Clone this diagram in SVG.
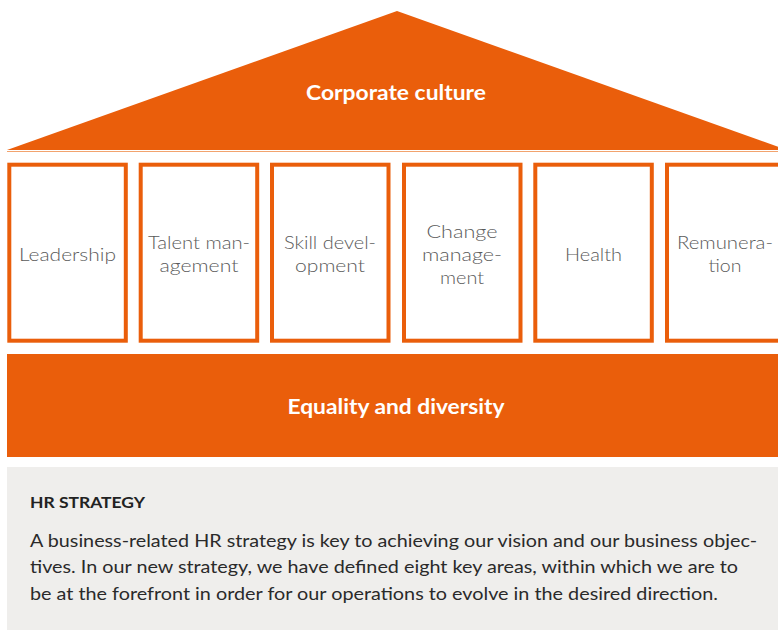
<svg xmlns="http://www.w3.org/2000/svg" width="778" height="630" viewBox="0 0 778 630">
<style>
.or{fill:#EA5E0B}
.box{fill:#fff;stroke:#EA5E0B;stroke-width:4}
.lbl{font-family:Lato,"Liberation Sans",sans-serif;font-size:18px;fill:#5a5a5a;text-anchor:middle;font-weight:300}
.hd{font-family:Lato,"Liberation Sans",sans-serif;font-weight:bold;fill:#fff;text-anchor:middle}
.p{font-family:Lato,"Liberation Sans",sans-serif;font-size:18px;fill:#2a2a2a}
</style>
<g id="roof">
<polygon class="or" points="7,150 397,11 787,150"/>
<line x1="7" y1="151.5" x2="778" y2="151.5" stroke="#F2A36E" stroke-width="1"/>
<text class="hd" x="396" y="100" font-size="21" textLength="180" lengthAdjust="spacingAndGlyphs">Corporate culture</text>
</g>
<g id="leadership">
<rect class="box" x="9.3" y="164.7" width="116.5" height="176"/>
<text class="lbl" x="67.5" y="261" textLength="97" lengthAdjust="spacingAndGlyphs">Leadership</text>
</g>
<g id="talent">
<rect class="box" x="140.7" y="164.7" width="116.5" height="176"/>
<text class="lbl" x="199" y="249" textLength="102" lengthAdjust="spacingAndGlyphs">Talent man-</text>
<text class="lbl" x="199" y="272" textLength="79" lengthAdjust="spacingAndGlyphs">agement</text>
</g>
<g id="skill">
<rect class="box" x="272" y="164.7" width="116.5" height="176"/>
<text class="lbl" x="330" y="249" textLength="92" lengthAdjust="spacingAndGlyphs">Skill devel-</text>
<text class="lbl" x="330" y="272" textLength="70" lengthAdjust="spacingAndGlyphs">opment</text>
</g>
<g id="change">
<rect class="box" x="404" y="164.7" width="116.5" height="176"/>
<text class="lbl" x="462" y="238" textLength="71" lengthAdjust="spacingAndGlyphs">Change</text>
<text class="lbl" x="462" y="261" textLength="80" lengthAdjust="spacingAndGlyphs">manage-</text>
<text class="lbl" x="462" y="284" textLength="44" lengthAdjust="spacingAndGlyphs">ment</text>
</g>
<g id="health">
<rect class="box" x="535.3" y="164.7" width="116.5" height="176"/>
<text class="lbl" x="593.5" y="261" textLength="57" lengthAdjust="spacingAndGlyphs">Health</text>
</g>
<g id="remuneration">
<rect class="box" x="667" y="164.7" width="130" height="176"/>
<text class="lbl" x="725" y="249" textLength="96" lengthAdjust="spacingAndGlyphs">Remunera-</text>
<text class="lbl" x="725" y="272" textLength="33" lengthAdjust="spacingAndGlyphs">tion</text>
</g>
<g id="equality">
<rect class="or" x="7" y="354" width="771" height="103"/>
<text class="hd" x="396" y="414" font-size="20" textLength="217" lengthAdjust="spacingAndGlyphs">Equality and diversity</text>
</g>
<g id="hr-strategy">
<rect x="7" y="467" width="771" height="163" fill="#EFEEEC"/>
<text x="30" y="508" font-family="Lato,'Liberation Sans',sans-serif" font-weight="bold" font-size="16" fill="#222" textLength="115" lengthAdjust="spacingAndGlyphs">HR STRATEGY</text>
<text class="p" x="30" y="547" textLength="727" lengthAdjust="spacingAndGlyphs">A business-related HR strategy is key to achieving our vision and our business objec-</text>
<text class="p" x="30" y="573" textLength="708" lengthAdjust="spacingAndGlyphs">tives. In our new strategy, we have defined eight key areas, within which we are to</text>
<text class="p" x="30" y="600" textLength="688" lengthAdjust="spacingAndGlyphs">be at the forefront in order for our operations to evolve in the desired direction.</text>
</g>
</svg>
